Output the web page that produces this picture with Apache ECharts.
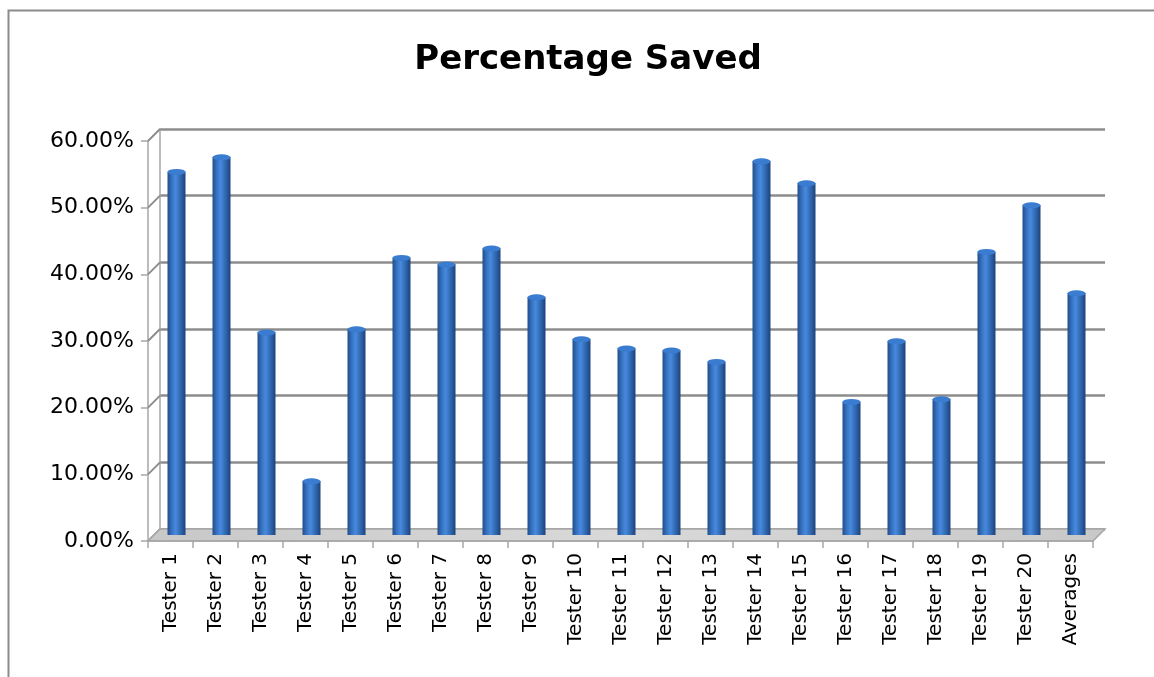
<!DOCTYPE html>
<html>
<head>
<meta charset="utf-8">
<script src="https://cdn.jsdelivr.net/npm/echarts@6/dist/echarts.min.js"></script>
<style>html,body{margin:0;padding:0;background:#fff}#chart{width:1154px;height:677px}</style>
</head>
<body>
<div id="chart"></div>
<script>
const categories = ['Tester 1','Tester 2','Tester 3','Tester 4','Tester 5','Tester 6','Tester 7','Tester 8','Tester 9','Tester 10','Tester 11','Tester 12','Tester 13','Tester 14','Tester 15','Tester 16','Tester 17','Tester 18','Tester 19','Tester 20','Averages'];
const percentSaved = [54.5, 56.7, 30.4, 8.1, 30.9, 41.6, 40.6, 43.0, 35.7, 29.4, 28.0, 27.7, 26.0, 56.1, 52.8, 20.0, 29.1, 20.4, 42.5, 49.5, 36.3];
const yTicks = [0, 10, 20, 30, 40, 50, 60];
const titleText = 'Percentage Saved';

const DEPTH = 12;
const FONT = 'DejaVu Sans';
const chart = echarts.init(document.getElementById('chart'));

const catAxisBase = {type: 'category', data: categories};
const valAxisBase = {type: 'value', min: 0, max: 60, interval: 10};

chart.setOption({
  animation: false,
  backgroundColor: '#ffffff',
  title: {
    text: titleText, left: 583, top: 38, textAlign: 'center',
    textStyle: {fontFamily: FONT, fontSize: 34, fontWeight: 'bold', color: '#000'}
  },
  graphic: [{
    type: 'rect', left: 6, top: 8, z: -10,
    shape: {width: 1200, height: 720},
    style: {fill: 'none', stroke: '#8c8c8c', lineWidth: 2}
  }],
  grid: [
    {left: 148, right: 61, top: 141, bottom: 136},
    {left: 154, right: 55, top: 135, bottom: 142},
    {left: 160, right: 49, top: 129, bottom: 148}
  ],
  xAxis: [
    Object.assign({}, catAxisBase, {
      gridIndex: 0, boundaryGap: true,
      axisLine: {show: true, lineStyle: {color: '#a6a6a6', width: 1.5}},
      axisTick: {show: true, interval: 0, length: 7, lineStyle: {color: '#a6a6a6', width: 1.5}},
      axisLabel: {interval: 0, rotate: 90, margin: 12, fontFamily: FONT, fontSize: 20, color: '#000'},
      z: 5
    }),
    Object.assign({}, catAxisBase, {gridIndex: 1, show: false}),
    Object.assign({}, catAxisBase, {gridIndex: 2, show: false})
  ],
  yAxis: [
    Object.assign({}, valAxisBase, {
      gridIndex: 0,
      axisLine: {show: true, lineStyle: {color: '#a6a6a6', width: 1.5}},
      axisTick: {show: true, length: 7, lineStyle: {color: '#a6a6a6', width: 1.5}},
      splitLine: {show: false},
      axisLabel: {margin: 14, fontFamily: FONT, fontSize: 22, color: '#000',
        formatter: v => v.toFixed(2) + '%'}
    }),
    Object.assign({}, valAxisBase, {gridIndex: 1, show: false}),
    Object.assign({}, valAxisBase, {
      gridIndex: 2,
      axisLine: {show: true, lineStyle: {color: '#a6a6a6', width: 1.5}},
      axisTick: {show: false},
      axisLabel: {show: false},
      splitLine: {show: true, lineStyle: {color: '#8c8c8c', width: 2.5}}
    })
  ],
  series: [
    {
      type: 'custom', xAxisIndex: 2, yAxisIndex: 2, silent: true, z: 1,
      data: yTicks.map(v => [0, v]),
      renderItem: (params, api) => {
        const cs = params.coordSys;
        const y = api.coord([0, api.value(1)])[1];
        return {
          type: 'line',
          shape: {x1: cs.x - DEPTH, y1: y + DEPTH, x2: cs.x, y2: y},
          style: {stroke: api.value(1) === 0 ? '#a6a6a6' : '#8c8c8c', lineWidth: 2}
        };
      }
    },
    {
      type: 'custom', xAxisIndex: 0, yAxisIndex: 0, silent: true, z: 2,
      data: [[0, 0]],
      renderItem: (params, api) => {
        const cs = params.coordSys;
        const y0 = api.coord([0, 0])[1];
        const x0 = cs.x, x1 = cs.x + cs.width;
        return {
          type: 'polygon',
          shape: {points: [[x0, y0], [x1, y0], [x1 + DEPTH, y0 - DEPTH], [x0 + DEPTH, y0 - DEPTH]]},
          style: {
            fill: new echarts.graphic.LinearGradient(0, 0, 1, 0, [
              {offset: 0, color: '#c8c8c8'}, {offset: 0.5, color: '#d9d9d9'}, {offset: 1, color: '#c8c8c8'}
            ]),
            stroke: '#a6a6a6', lineWidth: 1.5
          }
        };
      }
    },
    {
      name: 'Percentage Saved', type: 'bar', xAxisIndex: 1, yAxisIndex: 1,
      data: percentSaved, barWidth: 18, z: 3,
      itemStyle: {
        color: new echarts.graphic.LinearGradient(0, 0, 1, 0, [
          {offset: 0, color: '#224d88'},
          {offset: 0.25, color: '#3874c4'},
          {offset: 0.45, color: '#478add'},
          {offset: 0.75, color: '#2e64ad'},
          {offset: 1, color: '#1c437a'}
        ])
      }
    },
    {
      type: 'pictorialBar', xAxisIndex: 1, yAxisIndex: 1, z: 4,
      data: percentSaved, symbol: 'circle', symbolSize: [18, 6],
      symbolPosition: 'end', symbolOffset: [0, '-50%'],
      itemStyle: {color: '#3a7cd0', borderColor: '#255596', borderWidth: 1}
    }
  ]
});
</script>
</body>
</html>
